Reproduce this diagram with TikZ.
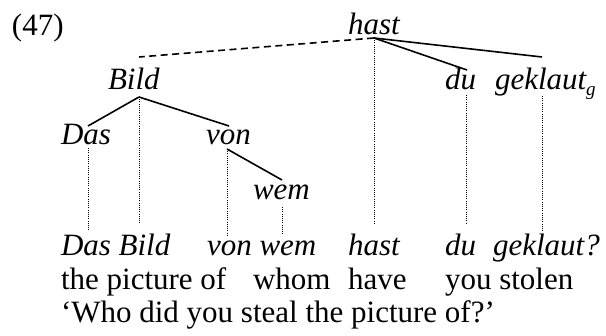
\documentclass[tikz,border=0pt]{standalone}
\usepackage{fontspec}
\setmainfont{Liberation Serif}
\begin{document}
\begin{tikzpicture}[x=1pt,y=-1pt,
  every node/.style={inner sep=0pt,outer sep=0pt,anchor=base west,
    font=\fontsize{31}{33.5}\selectfont},
  word/.style={font=\fontsize{31}{33.5}\selectfont\itshape},
  branch/.style={line width=1.6pt},
  movedash/.style={line width=1.6pt,dash pattern=on 7pt off 4.5pt},
  proj/.style={line width=1pt,dash pattern=on 1pt off 1.2pt}]
\useasboundingbox (0,0) rectangle (606,336);
% example number
\node (num) at (12,36) {(47)};
% tree words
\node[word] (hast) at (348,35) {hast};
\node[word] (bild) at (108,90) {Bild};
\node[word] (du) at (445,90) {du};
\node[word] (geklaut) at (495,90) {geklaut{\fontsize{19}{19}\selectfont\raisebox{-6pt}{g}}};
\node[word] (das) at (61,145) {Das};
\node[word] (von) at (206,145) {von};
\node[word] (wem) at (253,200) {wem};
% attachment points
\coordinate (hastA) at (374,38);
\coordinate (bildT) at (139,57);
\coordinate (bildA) at (139,97);
\coordinate (duT) at (467,70);
\coordinate (duB) at (466,95);
\coordinate (gekT) at (542,57);
\coordinate (gekB) at (542,96);
\coordinate (dasT) at (88,126);
\coordinate (dasB) at (88,148);
\coordinate (vonT) at (229,126);
\coordinate (vonA) at (227,149);
\coordinate (wemT) at (282,180);
\coordinate (wemB) at (282,207);
% ends of projection lines
\coordinate (eDas) at (88,230);
\coordinate (eBild) at (139,223);
\coordinate (eVon) at (227,235);
\coordinate (eWem) at (282,235);
\coordinate (eHast) at (374,225);
\coordinate (eDu) at (466,224);
\coordinate (eGek) at (542,232);
% gloss lines
\node[word] (l1a) at (61,256) {Das Bild};
\node[word] (l1b) at (207,256) {von wem};
\node[word] (l1c) at (348,256) {hast};
\node[word] (l1d) at (445,256) {du};
\node[word] (l1e) at (493,256) {geklaut?};
\node (l2a) at (61,290) {the picture of};
\node (l2b) at (253,290) {whom};
\node (l2c) at (348,290) {have};
\node (l2d) at (445,290) {you stolen};
\node (l3) at (61,323) {‘Who did you steal the picture of?’};
% branches
\draw[movedash] (hastA) -- (bildT);
\draw[branch] (hastA) -- (duT);
\draw[branch] (hastA) -- (gekT);
\draw[branch] (bildA) -- (dasT);
\draw[branch] (bildA) -- (vonT);
\draw[branch] (vonA) -- (wemT);
% projections
\draw[proj] (hastA) -- (eHast);
\draw[proj] (bildA) -- (eBild);
\draw[proj] (dasB) -- (eDas);
\draw[proj] (vonA) -- (eVon);
\draw[proj] (wemB) -- (eWem);
\draw[proj] (duB) -- (eDu);
\draw[proj] (gekB) -- (eGek);
\end{tikzpicture}
\end{document}
